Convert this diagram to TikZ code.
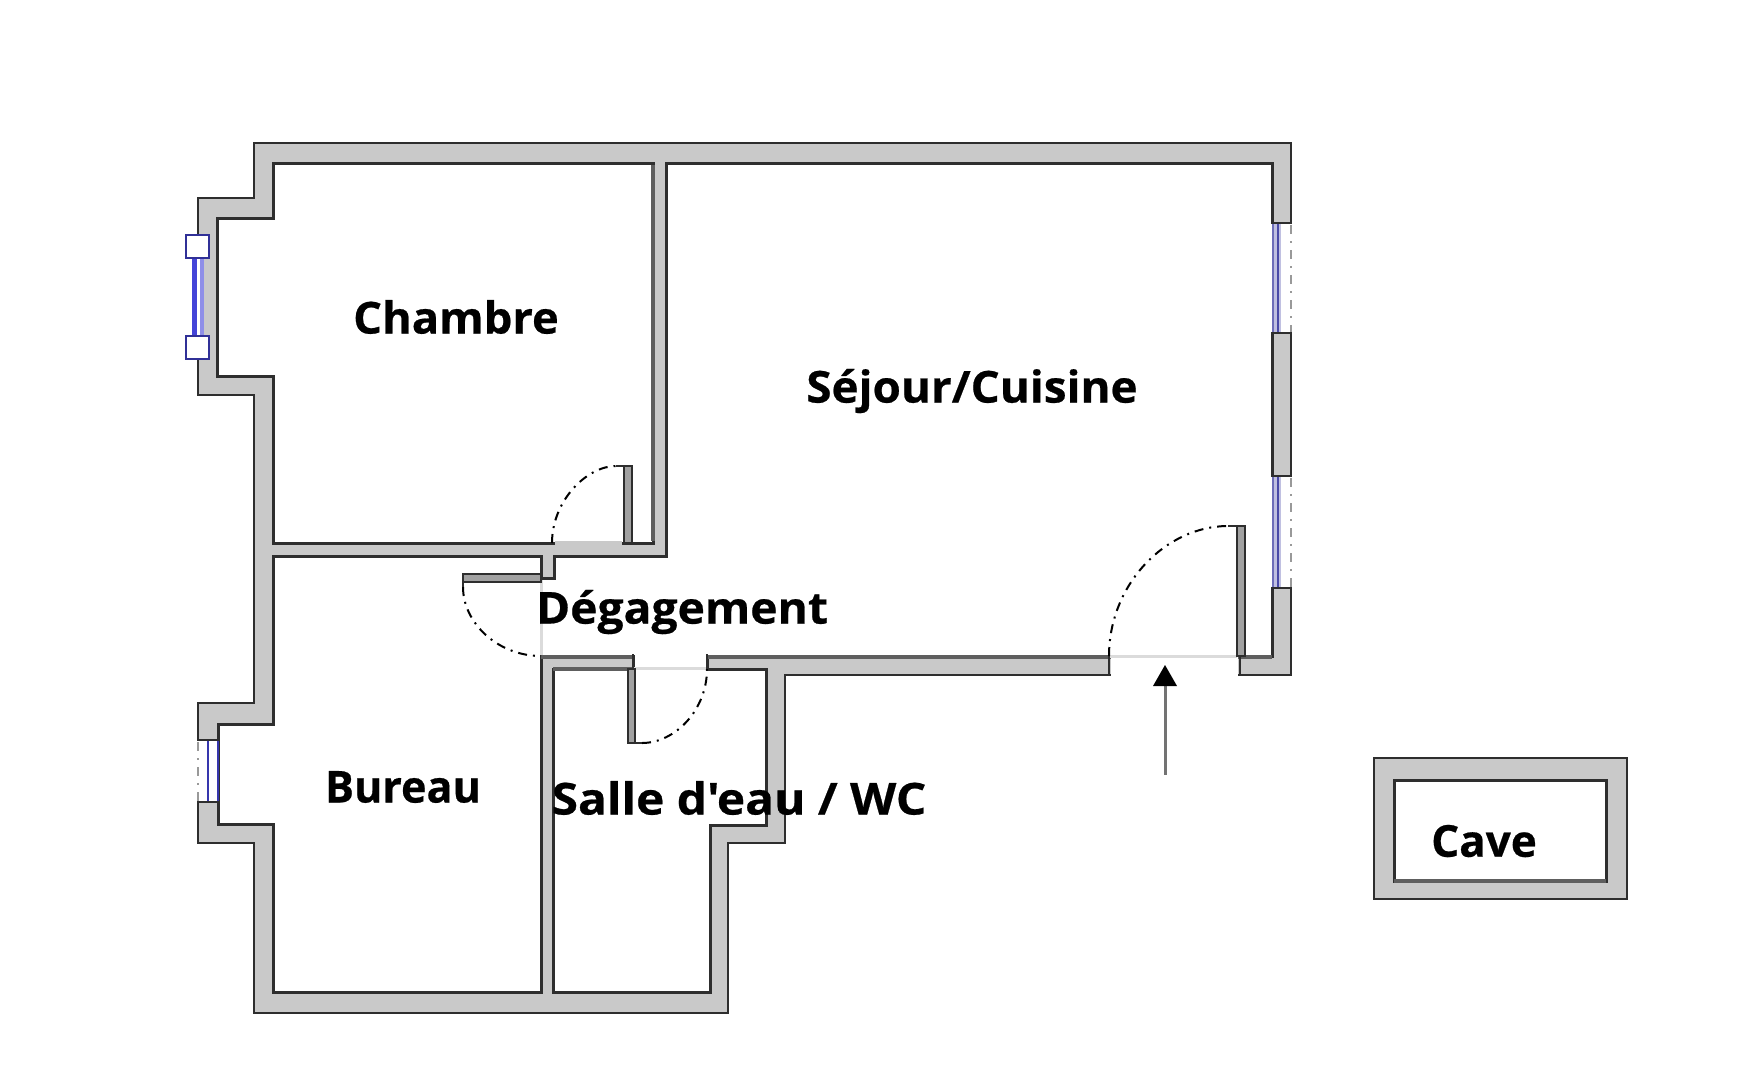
\documentclass[tikz,border=0pt]{standalone}
\usepackage{fontspec}
\setmainfont{Open Sans}[Ligatures=TeXOff,BoldFont={Open Sans Bold},BoldFeatures={FakeBold=0.5}]
\definecolor{wallgray}{HTML}{C9C9C9}
\definecolor{wallline}{HTML}{2E2E2E}
\definecolor{shade}{HTML}{5E5E5E}
\definecolor{winblue}{HTML}{4444D8}
\definecolor{winnavy}{HTML}{4A4AA8}
\tikzset{
  wall/.style={fill=wallgray,draw=wallline,line width=2.8pt,line join=miter},
  room/.style={fill=white,draw=wallline,line width=3pt,line join=miter},
  leaf/.style={fill=wallgray!80!black,draw=wallline,line width=2.4pt},
  swing/.style={draw=black,line width=2pt,dash pattern=on 9pt off 6pt on 2pt off 6pt},
  gapfill/.style={fill=white,draw=none},
  sill/.style={draw=black!14,line width=3pt},
  outsill/.style={draw=black!40,line width=2.4pt,dash pattern=on 9pt off 7pt on 2pt off 7pt},
  jamb/.style={draw=wallline,line width=2.6pt},
  edge shade/.style={draw=shade,line width=4.4pt},
  roomlabel/.style={font=\bfseries\fontsize{44}{50}\selectfont,text=black,inner sep=0pt,anchor=center,transform shape}
}
\begin{document}
\begin{tikzpicture}[x=1pt,y=-1pt]
\useasboundingbox (0,0) rectangle (1761,1080);
\fill[white] (0,0) rectangle (1761,1080);
% walls
\path[wall] (254,143) -- (1291,143) -- (1291,675) -- (785,675) -- (785,843) -- (728,843) -- (728,1013) -- (254,1013) -- (254,843) -- (198,843) -- (198,703) -- (254,703) -- (254,395) -- (198,395) -- (198,198) -- (254,198) -- cycle;
% rooms
\path[room] (273,163) -- (653,163) -- (653,543) -- (273,543) -- (273,376) -- (217,376) -- (217,218) -- (273,218) -- cycle;
\path[room] (666,163) -- (1272,163) -- (1272,656) -- (707,656) -- (707,669) -- (766,669) -- (766,825) -- (710,825) -- (710,992) -- (553,992) -- (553,669) -- (633,669) -- (633,656) -- (541,656) -- (541,992) -- (273,992) -- (273,824) -- (218,824) -- (218,724) -- (273,724) -- (273,556) -- (541,556) -- (541,578) -- (554,578) -- (554,556) -- (666,556) -- cycle;
% heavier grey wall edges
\draw[edge shade] (653,165) -- (653,541);
\draw[edge shade] (707,657) -- (1272,657);
\draw[edge shade] (541,657) -- (633,657);
\draw[edge shade] (553,669) -- (633,669);
% main door opening
\fill[gapfill] (1111,653) rectangle (1238,678);
\draw[sill] (1109,656) -- (1237,656);
\draw[jamb] (1109,654) -- (1109,676);
\draw[jamb] (1240,656) -- (1240,676);
% other openings
\draw[draw=wallgray,line width=3.4pt] (555,543) -- (622,543);
\fill[gapfill] (635,654.6) rectangle (705,671);
\draw[sill] (633,668) -- (707,668);
\draw[jamb] (633,654) -- (633,669);
\draw[jamb] (707,654) -- (707,669);
\draw[sill] (541,580) -- (541,655);
% door leaves
\path[leaf] (624,466) rectangle (632,543);
\draw[jamb] (616,466) -- (632,466);
\path[leaf] (463,574) rectangle (541,582);
\draw[jamb] (463,574) -- (463,587);
\path[leaf] (628,669) rectangle (635,743);
\draw[jamb] (628,743) -- (642,743);
\path[leaf] (1237,526) rectangle (1245,656);
\draw[jamb] (1228,526) -- (1245,526);
% door swings
\draw[swing] (552,543) .. controls (552,500.5) and (587,466) .. (616,466);
\draw[swing] (463,587) .. controls (463,623) and (498,656) .. (541,656);
\draw[swing] (642,743) .. controls (675,743) and (707,710) .. (707,669);
\draw[swing] (1109,656) .. controls (1109,584) and (1166,526) .. (1228,526);
% window right top
\fill[gapfill] (1271,224) rectangle (1293,332);
\fill[winnavy!35] (1272,223) rectangle (1281,333);
\draw[draw=winnavy!80,line width=2.4pt] (1273,223) -- (1273,333);
\draw[draw=winnavy,line width=2.6pt] (1278,223) -- (1278,333);
\draw[jamb] (1272,223) -- (1292,223);
\draw[jamb] (1272,333) -- (1292,333);
\draw[outsill] (1291,225) -- (1291,332);
% window right bottom
\fill[gapfill] (1271,477) rectangle (1293,587);
\fill[winnavy!35] (1272,476) rectangle (1281,588);
\draw[draw=winnavy!80,line width=2.4pt] (1273,476) -- (1273,588);
\draw[draw=winnavy,line width=2.6pt] (1278,476) -- (1278,588);
\draw[jamb] (1272,476) -- (1292,476);
\draw[jamb] (1272,588) -- (1292,588);
\draw[outsill] (1291,478) -- (1291,587);
% window bureau
\fill[gapfill] (196,741) rectangle (219,801);
\draw[draw=winblue!80!black,line width=2.4pt] (208,740) -- (208,802);
\draw[draw=winblue!80!black,line width=2.4pt] (218,740) -- (218,802);
\draw[jamb] (198,740) -- (219,740);
\draw[jamb] (198,802) -- (219,802);
\draw[outsill] (198,742) -- (198,801);
% window chambre
\fill[gapfill] (190,258) rectangle (200,335);
\draw[draw=winblue,line width=4.4pt] (194.5,258) -- (194.5,335);
\draw[draw=winblue!60,line width=3.6pt] (202,258) -- (202,335);
\draw[fill=white,draw=winblue!70!black,line width=2.6pt] (186,235) rectangle (209,258);
\draw[fill=white,draw=winblue!70!black,line width=2.6pt] (186,336) rectangle (209,359);
% entry arrow
\draw[draw=black!55,line width=3pt] (1165,684) -- (1165,775);
\fill[black] (1165,665) -- (1177,686) -- (1153,686) -- cycle;
% cave
\path[wall] (1374,758) rectangle (1627,899);
\path[room] (1394,780) rectangle (1606,881);
\draw[edge shade] (1394,881) -- (1606,881);
% labels
\node[roomlabel,xscale=1.03] (chambre) at (456,317) {Chambre};
\node[roomlabel,xscale=1.04] (sejour) at (972,391) {Séjour/Cuisine};
\node[roomlabel,xscale=1.05] (degagement) at (682,612) {Dégagement};
\node[roomlabel,xscale=0.98] (bureau) at (403,787) {Bureau};
\node[roomlabel,xscale=1.087] (salle) at (739,798) {Salle d'eau / WC};
\node[roomlabel,xscale=1.0] (cave) at (1484,841) {Cave};
\end{tikzpicture}
\end{document}
